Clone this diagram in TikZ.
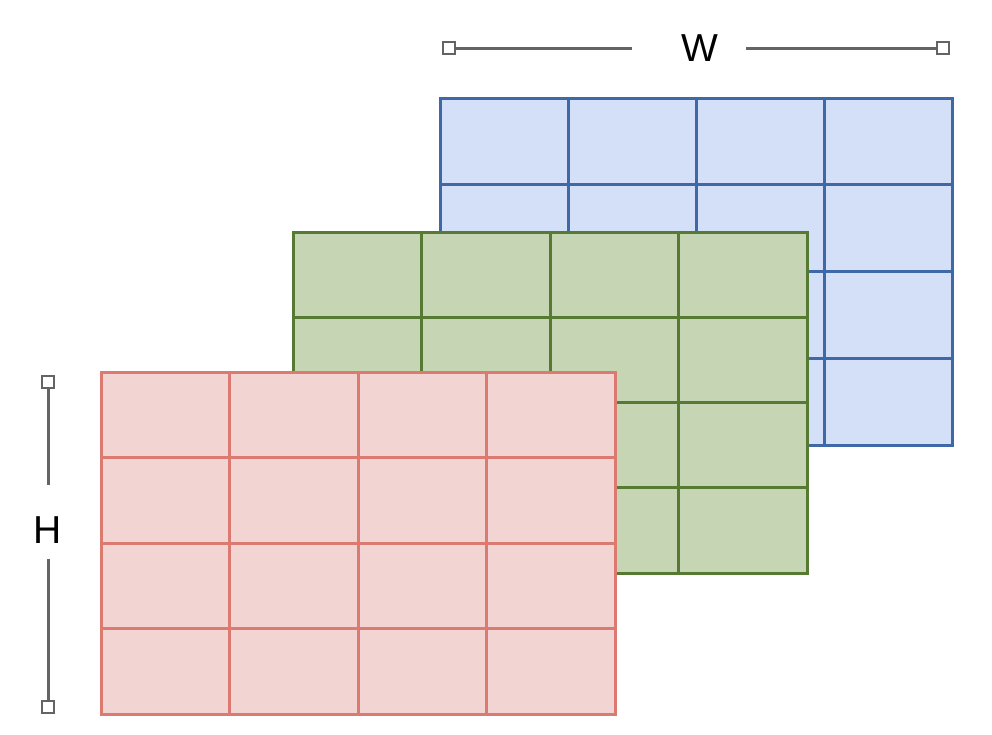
\documentclass[tikz,border=0pt]{standalone}
\usepackage{fontspec}
\setmainfont{Liberation Sans}
\definecolor{bluefill}{RGB}{211,224,247}
\definecolor{bluedraw}{RGB}{62,104,168}
\definecolor{greenfill}{RGB}{198,214,180}
\definecolor{greendraw}{RGB}{86,122,50}
\definecolor{redfill}{RGB}{242,212,210}
\definecolor{reddraw}{RGB}{218,122,112}
\definecolor{dimgray}{RGB}{100,100,100}
\newcommand\drawlayer[6]{%
  \fill[#5] (#1,#2) rectangle ++(4*#3,4*#4);
  \foreach \i in {1,2,3}{
    \draw[gridline,#6] (#1+\i*#3,#2) -- ++(0,4*#4);
    \draw[gridline,#6] (#1,#2+\i*#4) -- ++(4*#3,0);
  }
  \draw[gridline,#6] (#1,#2) rectangle ++(4*#3,4*#4);
}
\begin{document}
\begin{tikzpicture}[x=1pt,y=-1pt,
  gridline/.style={line width=3pt},
  marker/.style={draw=dimgray,fill=white,line width=2.6pt,minimum size=12pt,inner sep=0pt},
  dimline/.style={draw=dimgray,line width=3pt},
  dimtext/.style={inner sep=0pt,font=\fontsize{39}{42}\selectfont}]
\useasboundingbox (0,0) rectangle (992,734);
\drawlayer{440}{98}{128}{86.75}{bluefill}{bluedraw}
\drawlayer{293}{232}{128.5}{85.25}{greenfill}{greendraw}
\drawlayer{101}{372}{128.5}{85.5}{redfill}{reddraw}
% W dimension
\node[dimtext] (wlab) at (700,48) {W};
\coordinate (wa) at (632,48);
\coordinate (wb) at (746,48);
\node[marker] (wl) at (449,48) {};
\node[marker] (wr) at (943,48) {};
\draw[dimline] (wl) -- (wa);
\draw[dimline] (wb) -- (wr);
% H dimension
\node[dimtext] (hlab) at (48,530) {H};
\coordinate (ha) at (48,485);
\coordinate (hb) at (48,559);
\node[marker] (ht) at (48,382) {};
\node[marker] (hbot) at (48,707) {};
\draw[dimline] (ht) -- (ha);
\draw[dimline] (hb) -- (hbot);
\end{tikzpicture}
\end{document}
